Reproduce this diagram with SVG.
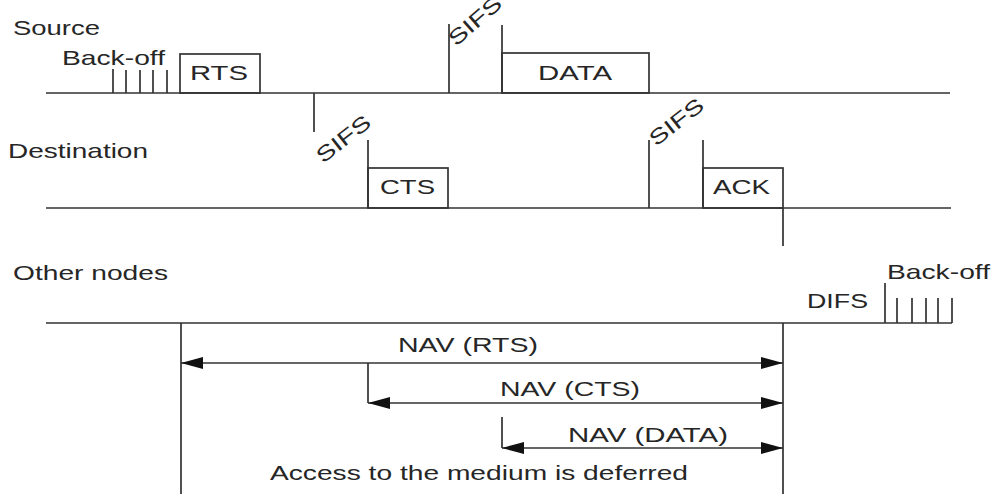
<svg xmlns="http://www.w3.org/2000/svg" width="993" height="494" viewBox="0 0 993 494">
<defs>
<style>
text{font-family:"Liberation Sans",Arial,sans-serif;font-size:21px;fill:#262626;}
.ln{stroke:#333;stroke-width:1.7;fill:none;}
.box{stroke:#333;stroke-width:1.7;fill:none;}
</style>
<marker id="ah" viewBox="0 0 22 12" refX="22" refY="6" markerWidth="22" markerHeight="12" markerUnits="userSpaceOnUse" orient="auto-start-reverse">
<path d="M0,0 L22,6 L0,12 z" fill="#111"/>
</marker>
</defs>
<rect width="993" height="494" fill="#fff"/>

<g id="source">
<text x="13" y="35" textLength="87" lengthAdjust="spacingAndGlyphs">Source</text>
<text x="62" y="65" textLength="103" lengthAdjust="spacingAndGlyphs">Back-off</text>
<path class="ln" d="M46,93 H950 M113,69 V93 M126,70 V93 M140,70 V93 M153,70 V93 M167,70 V93"/>
<rect id="rts" class="box" x="180" y="54" width="80" height="39"/>
<text x="190" y="80" textLength="58" lengthAdjust="spacingAndGlyphs">RTS</text>
<path class="ln" d="M449,24 V93 M502,25 V93 M314,93 V132"/>
<text transform="translate(456,47) rotate(-41)" textLength="63" lengthAdjust="spacingAndGlyphs">SIFS</text>
<rect id="data" class="box" x="502" y="53" width="147" height="40"/>
<text x="538" y="80" textLength="74" lengthAdjust="spacingAndGlyphs">DATA</text>
</g>

<g id="destination">
<text x="8" y="158" textLength="140" lengthAdjust="spacingAndGlyphs">Destination</text>
<path class="ln" d="M46,208 H951 M368,140 V208 M649,140 V208 M703,140 V208 M783,208 V246"/>
<text transform="translate(323,164) rotate(-38)" textLength="63" lengthAdjust="spacingAndGlyphs">SIFS</text>
<rect id="cts" class="box" x="368" y="168" width="80" height="40"/>
<text x="380" y="194" textLength="55" lengthAdjust="spacingAndGlyphs">CTS</text>
<text transform="translate(656,147) rotate(-38)" textLength="63" lengthAdjust="spacingAndGlyphs">SIFS</text>
<rect id="ack" class="box" x="703" y="168" width="80" height="40"/>
<text x="713" y="194" textLength="57" lengthAdjust="spacingAndGlyphs">ACK</text>
</g>

<g id="other-nodes">
<text x="13" y="280" textLength="155" lengthAdjust="spacingAndGlyphs">Other nodes</text>
<path class="ln" d="M46,323 H952 M885,283 V323 M897,298 V323 M912,298 V323 M926,298 V323 M938,298 V323 M952,298 V323"/>
<text x="807" y="308" textLength="61" lengthAdjust="spacingAndGlyphs">DIFS</text>
<text x="887" y="279" textLength="103" lengthAdjust="spacingAndGlyphs">Back-off</text>
</g>

<g id="connectors">
<path class="ln" d="M181,323 V494 M783,323 V494 M368,363 V403 M502,417 V448"/>
<line class="ln" x1="181" y1="363" x2="783" y2="363" marker-start="url(#ah)" marker-end="url(#ah)"/>
<line class="ln" x1="368" y1="403" x2="783" y2="403" marker-start="url(#ah)" marker-end="url(#ah)"/>
<line class="ln" x1="502" y1="448" x2="783" y2="448" marker-start="url(#ah)" marker-end="url(#ah)"/>
</g>

<g id="nav-labels">
<text x="398" y="352" textLength="140" lengthAdjust="spacingAndGlyphs">NAV (RTS)</text>
<text x="500" y="396" textLength="140" lengthAdjust="spacingAndGlyphs">NAV (CTS)</text>
<text x="568" y="442" textLength="160" lengthAdjust="spacingAndGlyphs">NAV (DATA)</text>
<text x="270" y="480" textLength="418" lengthAdjust="spacingAndGlyphs">Access to the medium is deferred</text>
</g>
</svg>
